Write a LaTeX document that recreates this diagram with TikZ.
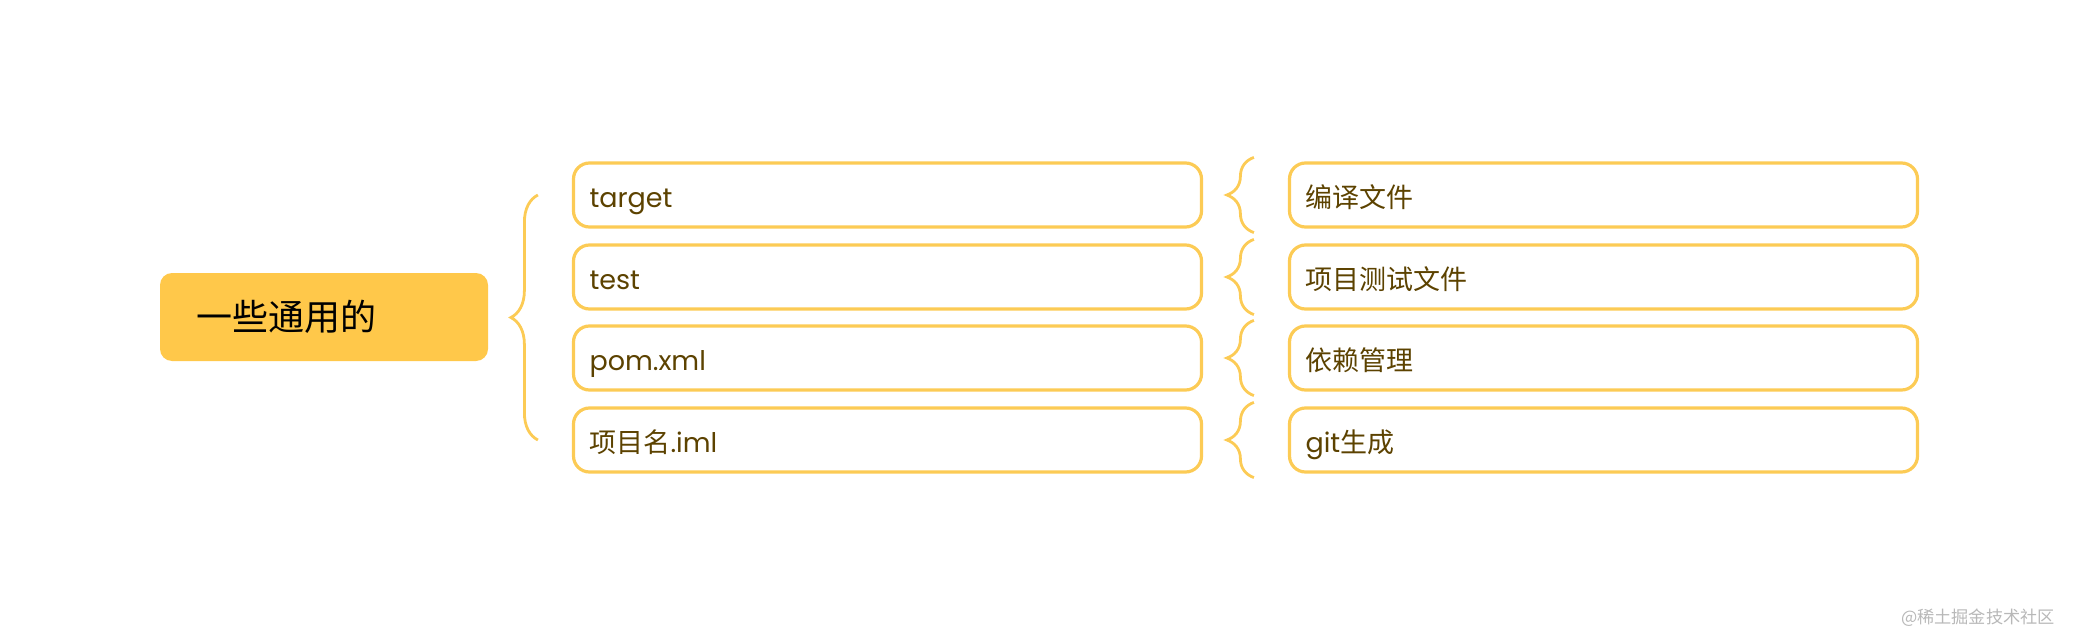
\documentclass[tikz,border=0pt]{standalone}
\usepackage{fontspec}
\setmainfont{Poppins}
\newfontfamily\cjk{Noto Sans CJK SC}
\usetikzlibrary{decorations.pathreplacing}
\definecolor{gold}{HTML}{FFC84A}
\definecolor{goldline}{HTML}{FCCB55}
\definecolor{leaftext}{HTML}{5C4200}
\tikzstyle{rootbox} = [fill=gold, rounded corners=6pt, minimum height=44pt,%
	text width=128pt, inner xsep=18pt, align=left, text=black,%
	font=\cjk\fontsize{18}{22}\selectfont]
\tikzstyle{leaf} = [draw=goldline, line width=1.6pt, rounded corners=8pt,%
	minimum height=32pt, text width=298pt, inner xsep=8pt, align=left,%
	text=leaftext, text height=12.5pt, text depth=0.5pt,%
	font=\fontsize{13.5}{16}\selectfont]
\tikzstyle{curly} = [draw=goldline, line width=1.4pt, decorate,%
	decoration={brace, amplitude=13.5pt}]

\begin{document}
\begin{tikzpicture}[x=0.5pt, y=-0.5pt]
		\useasboundingbox (0,0) rectangle (2080,636);
		\node[rootbox] (root) at (324,317) {一些通用的};
		% files
		\node[leaf] (t1) at (887.5,195) {target};
		\node[leaf] (t2) at (887.5,277) {test};
		\node[leaf] (t3) at (887.5,358) {pom.xml};
		\node[leaf] (t4) at (887.5,440) {{\cjk 项目名}.iml};
		\draw[curly] ([xshift=-17pt]t4.west) -- ([xshift=-17pt]t1.west);
		% what they are
		\node[leaf] (d1) at (1603.5,195) {\cjk 编译文件};
		\node[leaf] (d2) at (1603.5,277) {\cjk 项目测试文件};
		\node[leaf] (d3) at (1603.5,358) {\cjk 依赖管理};
		\node[leaf] (d4) at (1603.5,440) {git{\cjk 生成}};
		\draw[curly] ([xshift=-17pt,yshift=-2pt]d1.south west) -- ([xshift=-17pt,yshift=2pt]d1.north west);
		\draw[curly] ([xshift=-17pt,yshift=-2pt]d2.south west) -- ([xshift=-17pt,yshift=2pt]d2.north west);
		\draw[curly] ([xshift=-17pt,yshift=-2pt]d3.south west) -- ([xshift=-17pt,yshift=2pt]d3.north west);
		\draw[curly] ([xshift=-17pt,yshift=-2pt]d4.south west) -- ([xshift=-17pt,yshift=2pt]d4.north west);
		\node[anchor=east, text=black!28, font=\cjk\fontsize{8.6}{11}\selectfont] (mark) at (2062,618) {@稀土掘金技术社区};
	\end{tikzpicture}
\end{document}
